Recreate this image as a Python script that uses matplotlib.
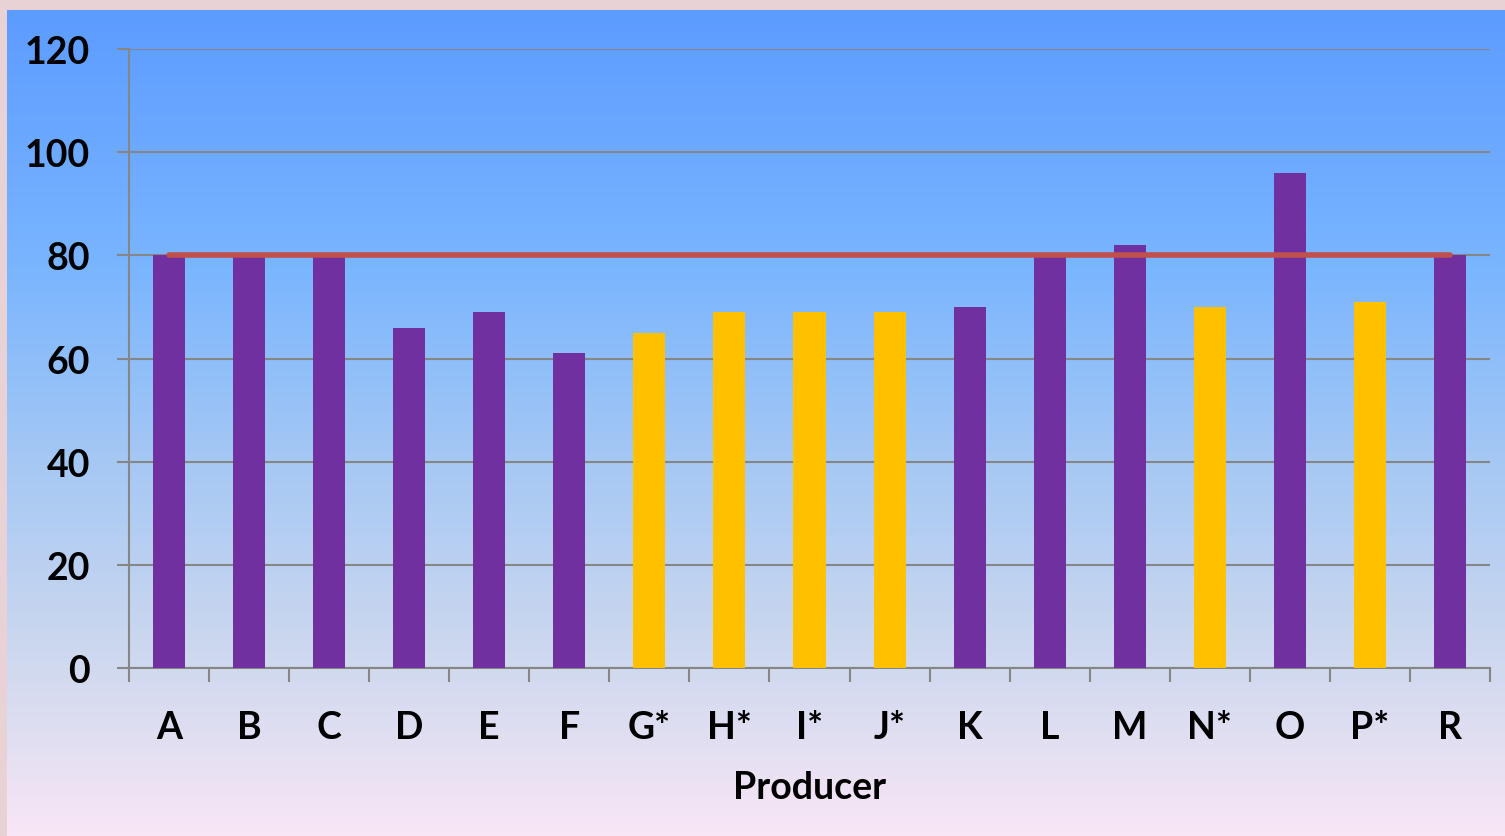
import numpy as np
import matplotlib.pyplot as plt
from matplotlib.colors import LinearSegmentedColormap

# data
producers = ['A', 'B', 'C', 'D', 'E', 'F', 'G*', 'H*', 'I*', 'J*',
             'K', 'L', 'M', 'N*', 'O', 'P*', 'R']
values = [80, 80, 80, 66, 69, 61, 65, 69, 69, 69, 70, 80, 82, 70, 96, 71, 80]
starred = [p.endswith('*') for p in producers]
target = 80

purple = '#7030A0'
yellow = '#FFC000'
gray = '#868686'

plt.rcParams['font.family'] = ['Lato', 'DejaVu Sans']
plt.rcParams['font.weight'] = 'bold'

W, H = 1505, 837
fig = plt.figure(figsize=(W / 100, H / 100), dpi=100)
fig.patch.set_facecolor('#E9D2D5')

# gradient panel behind the chart
bg = fig.add_axes([7 / W, 0, 1 - 7 / W, 1 - 11 / H])
bg.set_axis_off()
grad = LinearSegmentedColormap.from_list('bg', [
    (0.00, '#5C9CFF'),
    (0.30, '#78B4FF'),
    (0.55, '#A6C8F4'),
    (0.78, '#CDD8EE'),
    (1.00, '#F8E6F6'),
])
bg.imshow(np.linspace(0, 1, 256)[:, None], aspect='auto', cmap=grad,
          extent=[0, 1, 0, 1], origin='upper')

ax = fig.add_axes([129 / W, 1 - 669 / H, (1490 - 129) / W, (669 - 50) / H])
ax.patch.set_alpha(0)

x = np.arange(len(producers))
colors = [yellow if s else purple for s in starred]
ax.bar(x, values, width=0.4, color=colors, zorder=3)
ax.plot([x[0], x[-1]], [target, target], color='#C0504D', lw=4,
        solid_capstyle='round', zorder=4)

ax.set_xlim(-0.5, len(producers) - 0.5)
ax.set_ylim(0, 120)
ax.set_yticks(range(0, 121, 20))
ax.yaxis.grid(True, color=gray, lw=1.5, zorder=1)
ax.set_axisbelow(True)

# ticks at category boundaries, labels at centres
ax.set_xticks(np.arange(-0.5, len(producers), 1))
ax.set_xticklabels([])
ax.set_xticks(x, minor=True)
ax.set_xticklabels(producers, minor=True)
ax.tick_params(axis='x', which='major', length=10, width=1.5, color=gray)
ax.tick_params(axis='x', which='minor', length=0, pad=30, labelsize=27)
ax.tick_params(axis='y', length=9, width=1.5, color=gray, pad=19,
               labelsize=27)

for side in ['top', 'right']:
    ax.spines[side].set_visible(False)
for side in ['left', 'bottom']:
    ax.spines[side].set_color(gray)
    ax.spines[side].set_linewidth(1.5)

ax.set_xlabel('Producer', fontsize=27, fontweight='bold', labelpad=19)

fig.savefig('out.png', dpi=100, facecolor=fig.get_facecolor())
